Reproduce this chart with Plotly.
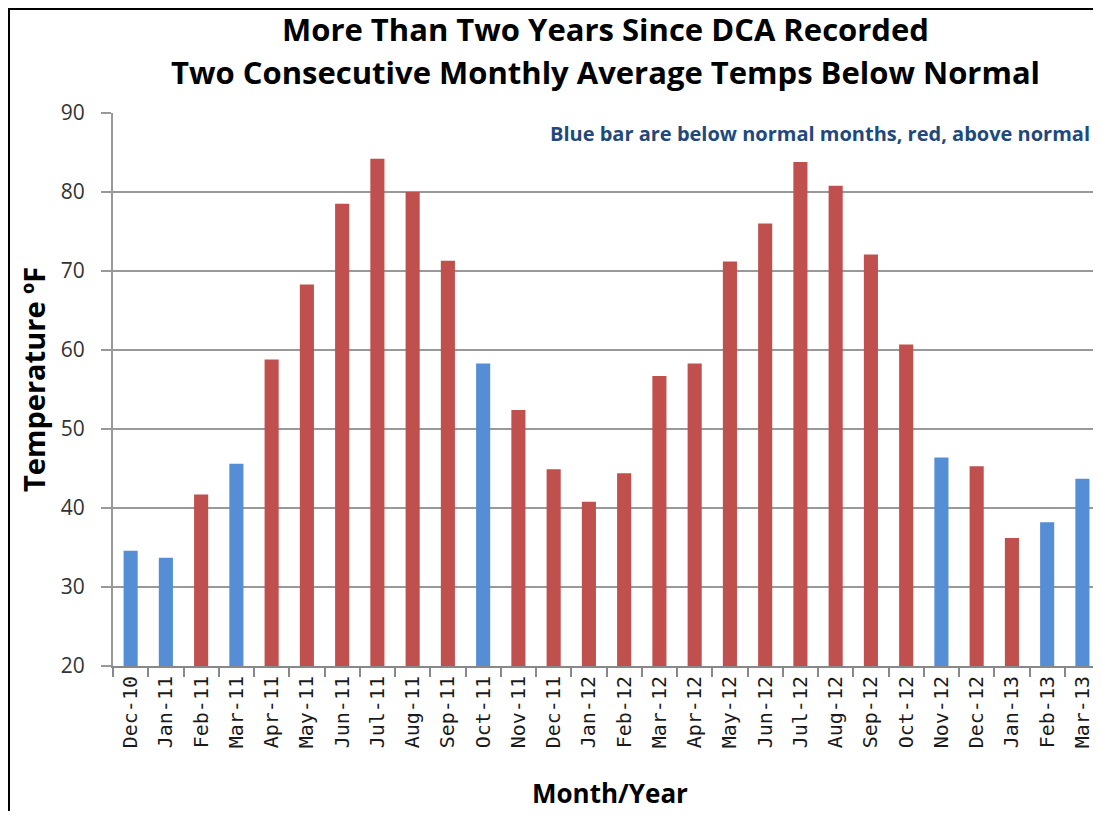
import plotly.graph_objects as go

months = ["Dec-10", "Jan-11", "Feb-11", "Mar-11", "Apr-11", "May-11", "Jun-11", "Jul-11",
          "Aug-11", "Sep-11", "Oct-11", "Nov-11", "Dec-11", "Jan-12", "Feb-12", "Mar-12",
          "Apr-12", "May-12", "Jun-12", "Jul-12", "Aug-12", "Sep-12", "Oct-12", "Nov-12",
          "Dec-12", "Jan-13", "Feb-13", "Mar-13"]
temps = [34.6, 33.7, 41.7, 45.6, 58.8, 68.3, 78.5, 84.2,
         80.0, 71.3, 58.3, 52.4, 44.9, 40.8, 44.4, 56.7,
         58.3, 71.2, 76.0, 83.8, 80.8, 72.1, 60.7, 46.4,
         45.3, 36.2, 38.2, 43.7]
below_normal = [True, True, False, True, False, False, False, False,
                False, False, True, False, False, False, False, False,
                False, False, False, False, False, False, False, True,
                False, False, True, True]

BLUE = "#558ED5"
RED = "#C0504D"
colors = [BLUE if b else RED for b in below_normal]

# page has an 8px body margin: figure occupies page (8,8)-(1093,811)
W, H = 1085, 803
L, T, B = 105, 105, 145
PW, PH = W - L, H - T - B


def px(xf):
    return (xf - L) / PW


def py(yf):
    return (H - B - yf) / PH


fig = go.Figure(go.Bar(
    x=months, y=temps, marker_color=colors, width=0.4,
    marker_line_width=0, showlegend=False,
))

fig.update_layout(
    width=W, height=H,
    margin=dict(l=L, r=0, t=T, b=B),
    plot_bgcolor="white", paper_bgcolor="white",
    font=dict(family="Open Sans, Liberation Sans, sans-serif", color="#000000"),
    bargap=0.6,
)

fig.update_xaxes(
    range=[-0.5, 27.3],
    tickangle=-90,
    tickfont=dict(family="DejaVu Sans Mono, DejaVu Sans", size=20, color="#1a1a1a"),
    showline=True, linecolor="#888888", linewidth=2,
    ticks="outside", tickson="boundaries", ticklen=9, tickcolor="#888888", tickwidth=2,
    showgrid=False,
)
fig.update_yaxes(
    range=[20, 90], dtick=10, tick0=20,
    tickfont=dict(size=21, family="Open Sans, sans-serif", color="#333333"),
    ticklabelstandoff=12,
    showline=True, linecolor="#999999", linewidth=2,
    ticks="outside", ticklen=10, tickcolor="#999999", tickwidth=2,
    showgrid=True, gridcolor="#999999", gridwidth=2,
)

title_font = dict(size=31, family="Open Sans, sans-serif", color="#000000", weight="bold")
fig.add_annotation(text="More Than Two Years Since DCA Recorded", xref="paper", yref="paper",
                   x=px(597), y=py(21), xanchor="center", yanchor="middle",
                   showarrow=False, font=title_font)
fig.add_annotation(text="Two Consecutive Monthly Average Temps Below Normal", xref="paper", yref="paper",
                   x=px(597), y=py(64), xanchor="center", yanchor="middle",
                   showarrow=False, font=title_font)

fig.add_annotation(text="Month/Year", xref="paper", yref="paper",
                   x=px(602), y=py(785), xanchor="center", yanchor="middle",
                   showarrow=False,
                   font=dict(size=26, family="Open Sans, sans-serif", color="#000000", weight="bold"))
fig.add_annotation(text="Temperature ºF", xref="paper", yref="paper",
                   x=px(25), y=py(372), xanchor="center", yanchor="middle", textangle=-90,
                   showarrow=False,
                   font=dict(size=29, family="Open Sans, sans-serif", color="#000000", weight="bold"))

fig.add_annotation(
    text="Blue bar are below normal months, red, above normal",
    xref="paper", yref="paper", x=px(1084), y=py(125), xanchor="right", yanchor="middle",
    showarrow=False,
    font=dict(size=20, color="#1F497D", weight="bold", family="Open Sans, sans-serif"),
)

fig.add_shape(
    type="rect", xref="paper", yref="paper",
    x0=px(1), x1=1.2, y0=-0.6, y1=py(1),
    line=dict(color="black", width=2), fillcolor="rgba(0,0,0,0)", layer="above",
)

fig.write_html("out.html")
